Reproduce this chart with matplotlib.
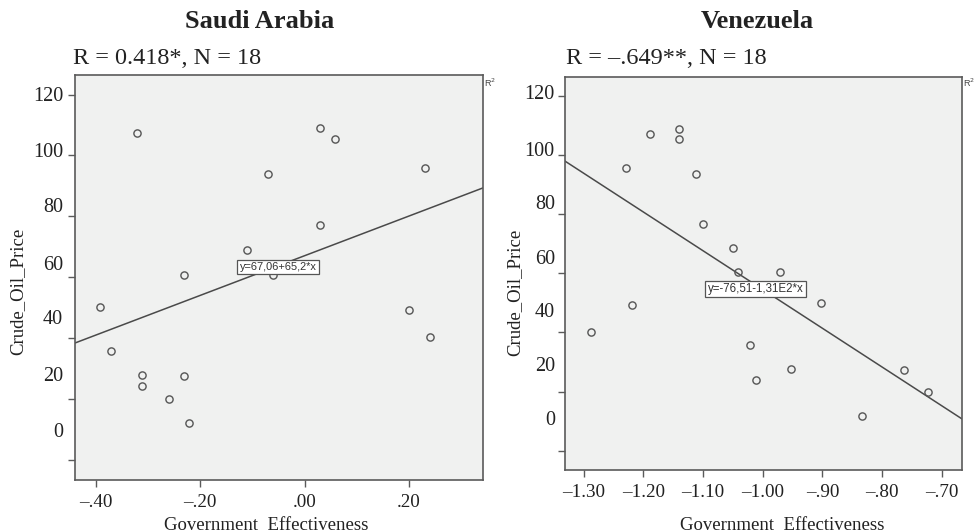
import matplotlib
matplotlib.use("Agg")
import matplotlib.pyplot as plt
from matplotlib.transforms import blended_transform_factory

# ---------------- data ----------------
sa_title = "Saudi Arabia"
sa_stat = "R = 0.418*, N = 18"
sa_ge = [-0.321, -0.231, -0.111, -0.061, 0.029, 0.059, -0.071, 0.230, 0.029,
         0.200, 0.240, -0.392, -0.370, -0.311, -0.311, -0.260, -0.231, -0.221]
sa_price = [107.2, 60.8, 68.9, 60.8, 109.1, 105.5, 93.8, 96.0, 77.1,
            49.3, 40.5, 50.3, 35.9, 27.9, 24.2, 20.1, 27.4, 12.2]
sa_fit = (67.06, 65.2)
sa_eq = "y=67,06+65,2*x"
sa_xticks = [-0.40, -0.20, 0.00, 0.20]
sa_xlabels = ["\u2013.40", "\u2013.20", ".00", ".20"]

ve_title = "Venezuela"
ve_stat = "R = \u2013.649**, N = 18"
ve_ge = [-1.229, -1.189, -1.140, -1.140, -1.111, -1.100, -1.050, -1.2195, -1.288,
         -1.041, -0.971, -0.902, -1.021, -1.011, -0.952, -0.833, -0.763, -0.723]
ve_price = [95.7, 106.9, 108.8, 105.2, 93.5, 76.8, 68.5, 49.1, 40.2,
            60.4, 60.4, 50.1, 35.7, 24.0, 27.7, 11.9, 27.2, 19.9]
ve_fit = (-76.51, -131.0)
ve_eq = "y=-76,51-1,31E2*x"
ve_xticks = [-1.30, -1.20, -1.10, -1.00, -0.90, -0.80, -0.70]
ve_xlabels = ["\u20131.30", "\u20131.20", "\u20131.10", "\u20131.00", "\u2013.90", "\u2013.80", "\u2013.70"]

yticks = [0, 20, 40, 60, 80, 100, 120]
ylabels = ["0", "20", "40", "60", "80", "100", "120"]
xlabel = "Government  Effectiveness"
ylabel = "Crude_Oil_Price"

# ---------------- layout ----------------
serif = "Liberation Serif"
sans = "Liberation Sans"
gray = "#5a5a5a"
bg = "#f0f1f0"
txt = "#222222"

fig = plt.figure(figsize=(9.74, 5.32), dpi=100)

panels = [
    dict(rect=[0.0770, 0.0977, 0.4186, 0.7613], x=sa_ge, y=sa_price, fit=sa_fit, eq=sa_eq,
         xlim=(-0.4396, 0.341), ylim=(-6.6, 126.4), xt=sa_xticks, xl=sa_xlabels,
         title=sa_title, stat=sa_stat, eqpos=(-0.051, 63.4), eqfs=7.9,
         ylabpos=[8.9, 27.3, 46.0, 63.7, 82.8, 100.8, 119.5], ylab_off=-0.029,
         title_x=260, stat_x=73, ylab_x=18, ylab_y=291, xlab_x=266, r2_x=484),
    dict(rect=[0.5798, 0.1165, 0.4076, 0.7393], x=ve_ge, y=ve_price, fit=ve_fit, eq=ve_eq,
         xlim=(-1.3317, -0.6667), ylim=(-6.5, 126.4), xt=ve_xticks, xl=ve_xlabels,
         title=ve_title, stat=ve_stat, eqpos=(-1.012, 54.7), eqfs=8.3,
         ylabpos=[10.4, 28.4, 46.6, 64.7, 83.3, 101.0, 120.3], ylab_off=-0.025,
         title_x=757, stat_x=566, ylab_x=515, ylab_y=292, xlab_x=782, r2_x=963),
]

W, H = 974, 532
for p in panels:
    ax = fig.add_axes(p["rect"])
    ax.set_facecolor(bg)
    for s in ax.spines.values():
        s.set_color(gray)
        s.set_linewidth(1.2)
    ax.set_xlim(*p["xlim"])
    ax.set_ylim(*p["ylim"])
    # regression line
    a, b = p["fit"]
    xs = list(p["xlim"])
    ax.plot(xs, [a + b * v for v in xs], color="#4a4a4a", lw=1.1, zorder=2)
    # points
    ax.plot(p["x"], p["y"], linestyle="none", marker="o", markersize=5.2,
            markerfacecolor="none", markeredgecolor="#555555", markeredgewidth=1.0, zorder=3)
    # equation box
    ax.text(p["eqpos"][0], p["eqpos"][1], p["eq"], family=sans, fontsize=p["eqfs"],
            color="#333333", ha="center", va="center", zorder=5,
            bbox=dict(boxstyle="square,pad=0.2", fc="white", ec="#555555", lw=0.9))
    # ticks
    ax.set_xticks(p["xt"])
    ax.set_xticklabels(p["xl"], family=serif, fontsize=13.8, color=txt)
    ax.set_yticks(yticks)
    ax.set_yticklabels([])
    ax.tick_params(axis="both", color=gray, length=5, width=1.0)
    ax.tick_params(axis="x", pad=5)
    trans = blended_transform_factory(ax.transAxes, ax.transData)
    for lab, yv in zip(ylabels, p["ylabpos"]):
        ax.text(p["ylab_off"], yv, lab, transform=trans, family=serif, fontsize=14.5,
                color=txt, ha="right", va="center")
    # titles and labels in figure pixel coords
    fig.text(p["title_x"] / W, 1 - 21 / H, p["title"], family=serif, fontsize=19,
             fontweight="bold", ha="center", va="center", color=txt)
    fig.text(p["stat_x"] / W, 1 - 58 / H, p["stat"], family=serif, fontsize=17.5,
             ha="left", va="center", color=txt)
    fig.text(p["ylab_x"] / W, 1 - p["ylab_y"] / H, ylabel, family=serif, fontsize=13.5,
             rotation=90, ha="center", va="center", color=txt)
    fig.text(p["xlab_x"] / W, 1 - 525 / H, xlabel, family=serif, fontsize=13.5,
             ha="center", va="center", color=txt)
    fig.text(p["r2_x"] / W, 1 - 83 / H, "R$^2$", family=sans, fontsize=6.5,
             ha="left", va="center", color="#444444")

fig.savefig("out.png", dpi=100, facecolor="white")
